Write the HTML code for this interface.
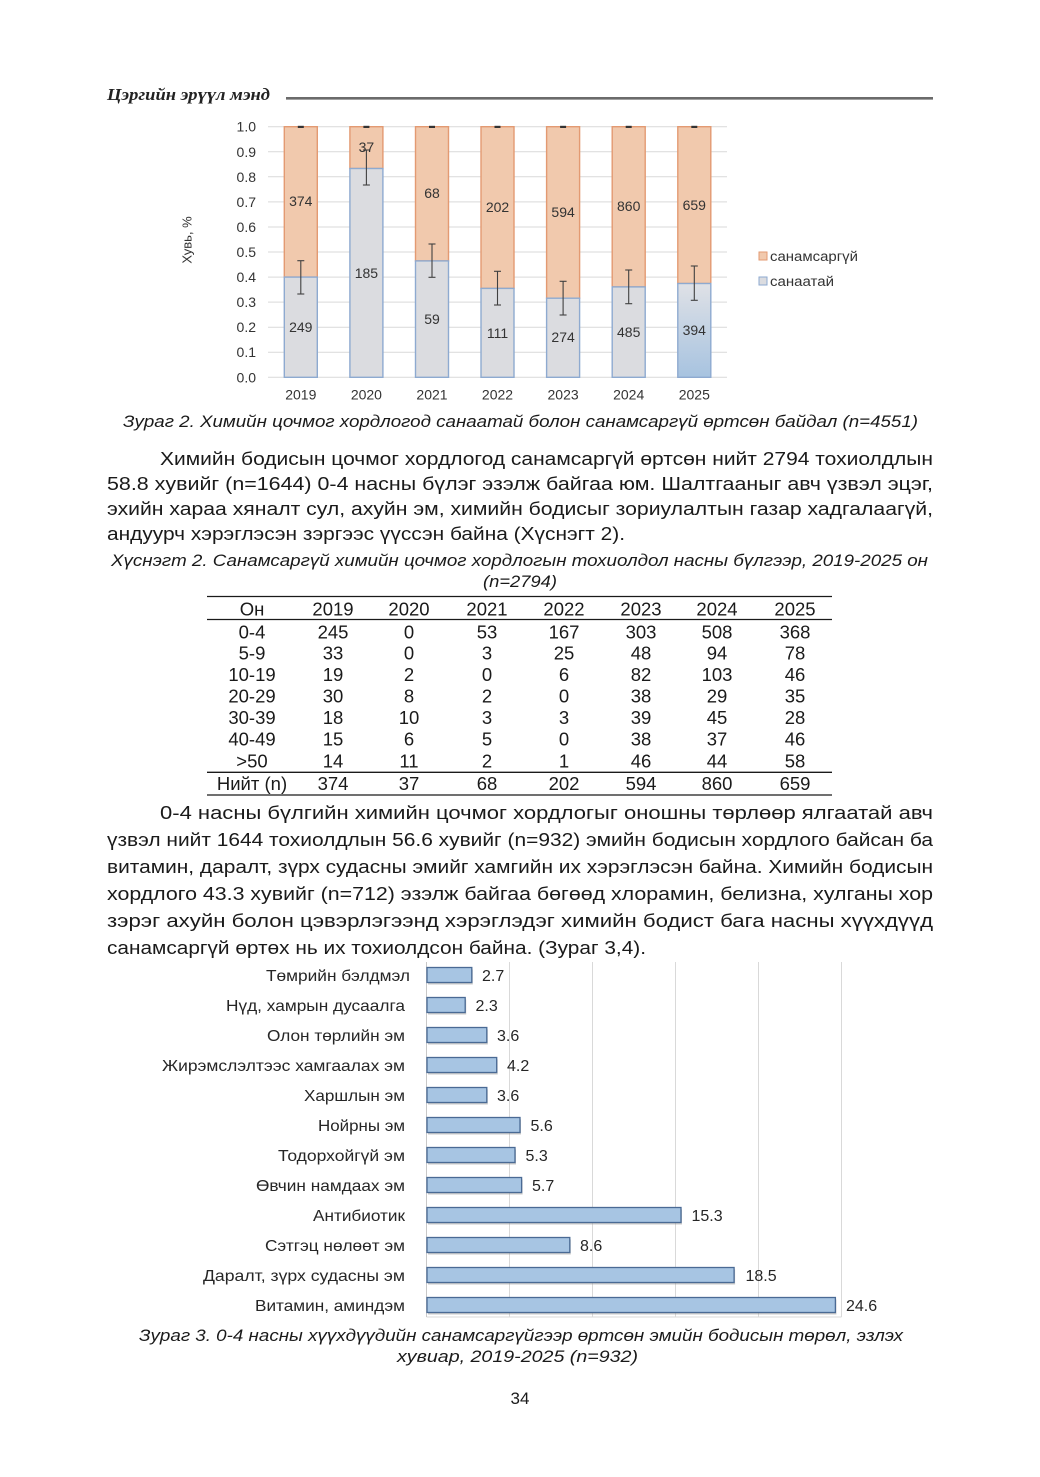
<!DOCTYPE html>
<html>
<head>
<meta charset="utf-8">
<style>
html,body{margin:0;padding:0;background:#fff;}
svg{display:block;}
text{font-family:"Liberation Sans", Arial, sans-serif;}
.b{font-size:18.5px;fill:#1a1a1a;}
.cap{font-size:16.5px;font-style:italic;fill:#1a1a1a;}
.t1{font-size:14px;fill:#333;}
.t2{font-size:16px;fill:#262626;}
</style>
</head>
<body>
<svg width="1040" height="1477" viewBox="0 0 1040 1477" xmlns="http://www.w3.org/2000/svg">
<defs>
<linearGradient id="g25" x1="0" y1="0" x2="0" y2="1">
<stop offset="0" stop-color="#dfe1e6"/>
<stop offset="1" stop-color="#a7c3e0"/>
</linearGradient>
</defs>
<rect width="1040" height="1477" fill="#fff"/>

<!-- Header -->
<text x="107" y="100" font-family="Liberation Serif, serif" font-size="17" font-weight="bold" font-style="italic" fill="#222" textLength="163" lengthAdjust="spacingAndGlyphs" style="font-family:'Liberation Serif',serif">Цэргийн эрүүл мэнд</text>
<line x1="286" y1="98.3" x2="933" y2="98.3" stroke="#6b6b6b" stroke-width="2.6"/>

<!-- Chart 1 gridlines -->
<g stroke="#d9d9d9" stroke-width="1">
<line x1="268" y1="377.3" x2="727" y2="377.3"/>
<line x1="268" y1="352.2" x2="727" y2="352.2"/>
<line x1="268" y1="327.2" x2="727" y2="327.2"/>
<line x1="268" y1="302.1" x2="727" y2="302.1"/>
<line x1="268" y1="277.1" x2="727" y2="277.1"/>
<line x1="268" y1="252.0" x2="727" y2="252.0"/>
<line x1="268" y1="227.0" x2="727" y2="227.0"/>
<line x1="268" y1="201.9" x2="727" y2="201.9"/>
<line x1="268" y1="176.8" x2="727" y2="176.8"/>
<line x1="268" y1="151.8" x2="727" y2="151.8"/>
<line x1="268" y1="126.7" x2="727" y2="126.7"/>
</g>
<g class="t1" text-anchor="end">
<text x="256" y="382.3">0.0</text>
<text x="256" y="357.2">0.1</text>
<text x="256" y="332.2">0.2</text>
<text x="256" y="307.1">0.3</text>
<text x="256" y="282.1">0.4</text>
<text x="256" y="257.0">0.5</text>
<text x="256" y="232.0">0.6</text>
<text x="256" y="206.9">0.7</text>
<text x="256" y="181.8">0.8</text>
<text x="256" y="156.8">0.9</text>
<text x="256" y="131.7">1.0</text>
</g>
<text transform="translate(191.5,240) rotate(-90)" text-anchor="middle" font-size="13" fill="#333">Хувь, %</text>

<!-- Bars chart 1 -->
<g stroke-width="1.4">
<!-- 2019 -->
<rect x="284.3" y="126.7" width="33" height="150.4" fill="#f1c9ad" stroke="#e39a72"/>
<rect x="284.3" y="277.1" width="33" height="100.2" fill="#dbdce0" stroke="#8eaad0"/>
<!-- 2020 -->
<rect x="349.9" y="126.7" width="33" height="41.8" fill="#f1c9ad" stroke="#e39a72"/>
<rect x="349.9" y="168.5" width="33" height="208.8" fill="#dbdce0" stroke="#8eaad0"/>
<!-- 2021 -->
<rect x="415.5" y="126.7" width="33" height="134.2" fill="#f1c9ad" stroke="#e39a72"/>
<rect x="415.5" y="260.9" width="33" height="116.4" fill="#dbdce0" stroke="#8eaad0"/>
<!-- 2022 -->
<rect x="481" y="126.7" width="33" height="161.7" fill="#f1c9ad" stroke="#e39a72"/>
<rect x="481" y="288.4" width="33" height="88.9" fill="#dbdce0" stroke="#8eaad0"/>
<!-- 2023 -->
<rect x="546.6" y="126.7" width="33" height="171.5" fill="#f1c9ad" stroke="#e39a72"/>
<rect x="546.6" y="298.2" width="33" height="79.1" fill="#dbdce0" stroke="#8eaad0"/>
<!-- 2024 -->
<rect x="612.2" y="126.7" width="33" height="160.2" fill="#f1c9ad" stroke="#e39a72"/>
<rect x="612.2" y="286.9" width="33" height="90.4" fill="#dbdce0" stroke="#8eaad0"/>
<!-- 2025 -->
<rect x="677.8" y="126.7" width="33" height="156.8" fill="#f1c9ad" stroke="#e39a72"/>
<rect x="677.8" y="283.5" width="33" height="93.8" fill="url(#g25)" stroke="#8eaad0"/>
</g>

<!-- error bars -->
<g stroke="#404040" stroke-width="1.1">
<line x1="300.8" y1="260.7" x2="300.8" y2="294"/><line x1="297.3" y1="260.7" x2="304.3" y2="260.7"/><line x1="297.3" y1="294" x2="304.3" y2="294"/>
<line x1="366.4" y1="150" x2="366.4" y2="185"/><line x1="362.9" y1="150" x2="369.9" y2="150"/><line x1="362.9" y1="185" x2="369.9" y2="185"/>
<line x1="432" y1="244" x2="432" y2="277.3"/><line x1="428.5" y1="244" x2="435.5" y2="244"/><line x1="428.5" y1="277.3" x2="435.5" y2="277.3"/>
<line x1="497.5" y1="271.3" x2="497.5" y2="305"/><line x1="494" y1="271.3" x2="501" y2="271.3"/><line x1="494" y1="305" x2="501" y2="305"/>
<line x1="563.1" y1="281.3" x2="563.1" y2="315"/><line x1="559.6" y1="281.3" x2="566.6" y2="281.3"/><line x1="559.6" y1="315" x2="566.6" y2="315"/>
<line x1="628.7" y1="270" x2="628.7" y2="303.7"/><line x1="625.2" y1="270" x2="632.2" y2="270"/><line x1="625.2" y1="303.7" x2="632.2" y2="303.7"/>
<line x1="694.3" y1="266" x2="694.3" y2="300.3"/><line x1="690.8" y1="266" x2="697.8" y2="266"/><line x1="690.8" y1="300.3" x2="697.8" y2="300.3"/>
</g>
<g stroke="#333" stroke-width="2.2">
<line x1="297.8" y1="126.9" x2="303.8" y2="126.9"/>
<line x1="363.4" y1="126.9" x2="369.4" y2="126.9"/>
<line x1="429" y1="126.9" x2="435" y2="126.9"/>
<line x1="494.5" y1="126.9" x2="500.5" y2="126.9"/>
<line x1="560.1" y1="126.9" x2="566.1" y2="126.9"/>
<line x1="625.7" y1="126.9" x2="631.7" y2="126.9"/>
<line x1="691.3" y1="126.9" x2="697.3" y2="126.9"/>
</g>

<!-- data labels chart 1 -->
<g class="t1" text-anchor="middle">
<text x="300.8" y="206">374</text><text x="300.8" y="332">249</text>
<text x="366.4" y="152">37</text><text x="366.4" y="278">185</text>
<text x="432" y="198">68</text><text x="432" y="324">59</text>
<text x="497.5" y="212">202</text><text x="497.5" y="338">111</text>
<text x="563.1" y="217">594</text><text x="563.1" y="342">274</text>
<text x="628.7" y="211">860</text><text x="628.7" y="337">485</text>
<text x="694.3" y="210">659</text><text x="694.3" y="335">394</text>
</g>
<g class="t1" text-anchor="middle">
<text x="300.8" y="399.5">2019</text>
<text x="366.4" y="399.5">2020</text>
<text x="432" y="399.5">2021</text>
<text x="497.5" y="399.5">2022</text>
<text x="563.1" y="399.5">2023</text>
<text x="628.7" y="399.5">2024</text>
<text x="694.3" y="399.5">2025</text>
</g>

<!-- legend -->
<rect x="759" y="252" width="8" height="8" fill="#f1c9ad" stroke="#e39a72" stroke-width="1"/>
<text x="770" y="261" font-size="13.5" fill="#333" textLength="88" lengthAdjust="spacingAndGlyphs">санамсаргүй</text>
<rect x="759" y="277" width="8" height="8" fill="#dbdce0" stroke="#8eaad0" stroke-width="1"/>
<text x="770" y="286" font-size="13.5" fill="#333" textLength="64" lengthAdjust="spacingAndGlyphs">санаатай</text>

<!-- Caption 2 -->
<text class="cap" x="123" y="427" textLength="795" lengthAdjust="spacingAndGlyphs">Зураг 2. Химийн цочмог хордлогод санаатай болон санамсаргүй өртсөн байдал (n=4551)</text>

<!-- Paragraph 1 -->
<text class="b" x="160" y="465" textLength="773" lengthAdjust="spacingAndGlyphs">Химийн бодисын цочмог хордлогод санамсаргүй өртсөн нийт 2794 тохиолдлын</text>
<text class="b" x="107" y="490" textLength="826" lengthAdjust="spacingAndGlyphs">58.8 хувийг (n=1644) 0-4 насны бүлэг эзэлж байгаа юм. Шалтгааныг авч үзвэл эцэг,</text>
<text class="b" x="107" y="515" textLength="826" lengthAdjust="spacingAndGlyphs">эхийн хараа хяналт сул, ахуйн эм, химийн бодисыг зориулалтын газар хадгалаагүй,</text>
<text class="b" x="107" y="540" textLength="518" lengthAdjust="spacingAndGlyphs">андуурч хэрэглэсэн зэргээс үүссэн байна (Хүснэгт 2).</text>

<!-- Table caption -->
<text class="cap" x="111" y="566" textLength="817" lengthAdjust="spacingAndGlyphs">Хүснэгт 2. Санамсаргүй химийн цочмог хордлогын тохиолдол насны бүлгээр, 2019-2025 он</text>
<text class="cap" x="483" y="587" textLength="74" lengthAdjust="spacingAndGlyphs">(n=2794)</text>

<!-- Table -->
<g stroke="#1a1a1a" stroke-width="1.3">
<line x1="207" y1="596.5" x2="832" y2="596.5"/>
<line x1="207" y1="619.5" x2="832" y2="619.5"/>
<line x1="207" y1="772.3" x2="832" y2="772.3"/>
<line x1="207" y1="795" x2="832" y2="795"/>
</g>
<g class="b" text-anchor="middle">
<text y="615.5"><tspan x="252">Он</tspan><tspan x="333">2019</tspan><tspan x="409">2020</tspan><tspan x="487">2021</tspan><tspan x="564">2022</tspan><tspan x="641">2023</tspan><tspan x="717">2024</tspan><tspan x="795">2025</tspan></text>
<text y="638.3"><tspan x="252">0-4</tspan><tspan x="333">245</tspan><tspan x="409">0</tspan><tspan x="487">53</tspan><tspan x="564">167</tspan><tspan x="641">303</tspan><tspan x="717">508</tspan><tspan x="795">368</tspan></text>
<text y="659.3"><tspan x="252">5-9</tspan><tspan x="333">33</tspan><tspan x="409">0</tspan><tspan x="487">3</tspan><tspan x="564">25</tspan><tspan x="641">48</tspan><tspan x="717">94</tspan><tspan x="795">78</tspan></text>
<text y="680.9"><tspan x="252">10-19</tspan><tspan x="333">19</tspan><tspan x="409">2</tspan><tspan x="487">0</tspan><tspan x="564">6</tspan><tspan x="641">82</tspan><tspan x="717">103</tspan><tspan x="795">46</tspan></text>
<text y="702.3"><tspan x="252">20-29</tspan><tspan x="333">30</tspan><tspan x="409">8</tspan><tspan x="487">2</tspan><tspan x="564">0</tspan><tspan x="641">38</tspan><tspan x="717">29</tspan><tspan x="795">35</tspan></text>
<text y="723.9"><tspan x="252">30-39</tspan><tspan x="333">18</tspan><tspan x="409">10</tspan><tspan x="487">3</tspan><tspan x="564">3</tspan><tspan x="641">39</tspan><tspan x="717">45</tspan><tspan x="795">28</tspan></text>
<text y="745.6"><tspan x="252">40-49</tspan><tspan x="333">15</tspan><tspan x="409">6</tspan><tspan x="487">5</tspan><tspan x="564">0</tspan><tspan x="641">38</tspan><tspan x="717">37</tspan><tspan x="795">46</tspan></text>
<text y="767.6"><tspan x="252">&gt;50</tspan><tspan x="333">14</tspan><tspan x="409">11</tspan><tspan x="487">2</tspan><tspan x="564">1</tspan><tspan x="641">46</tspan><tspan x="717">44</tspan><tspan x="795">58</tspan></text>
<text y="789.9"><tspan x="252">Нийт (n)</tspan><tspan x="333">374</tspan><tspan x="409">37</tspan><tspan x="487">68</tspan><tspan x="564">202</tspan><tspan x="641">594</tspan><tspan x="717">860</tspan><tspan x="795">659</tspan></text>
</g>

<!-- Paragraph 2 -->
<text class="b" x="160" y="819" textLength="773" lengthAdjust="spacingAndGlyphs">0-4 насны бүлгийн химийн цочмог хордлогыг оношны төрлөөр ялгаатай авч</text>
<text class="b" x="107" y="846" textLength="826" lengthAdjust="spacingAndGlyphs">үзвэл нийт 1644 тохиолдлын 56.6 хувийг (n=932) эмийн бодисын хордлого байсан ба</text>
<text class="b" x="107" y="873" textLength="826" lengthAdjust="spacingAndGlyphs">витамин, даралт, зүрх судасны эмийг хамгийн их хэрэглэсэн байна. Химийн бодисын</text>
<text class="b" x="107" y="900" textLength="826" lengthAdjust="spacingAndGlyphs">хордлого 43.3 хувийг (n=712) эзэлж байгаа бөгөөд хлорамин, белизна, хулганы хор</text>
<text class="b" x="107" y="927" textLength="826" lengthAdjust="spacingAndGlyphs">зэрэг ахуйн болон цэвэрлэгээнд хэрэглэдэг химийн бодист бага насны хүүхдүүд</text>
<text class="b" x="107" y="954" textLength="539" lengthAdjust="spacingAndGlyphs">санамсаргүй өртөх нь их тохиолдсон байна. (Зураг 3,4).</text>

<!-- Chart 2 gridlines -->
<g stroke="#d9d9d9" stroke-width="1">
<line x1="509.5" y1="962" x2="509.5" y2="1317"/>
<line x1="592.5" y1="962" x2="592.5" y2="1317"/>
<line x1="675.5" y1="962" x2="675.5" y2="1317"/>
<line x1="758.5" y1="962" x2="758.5" y2="1317"/>
<line x1="841.5" y1="962" x2="841.5" y2="1317"/>
<line x1="426.5" y1="1317" x2="841.5" y2="1317"/>
</g>
<line x1="426.5" y1="962" x2="426.5" y2="1317" stroke="#c8c8c8" stroke-width="1"/>

<!-- Chart 2 bars: shadows -->
<g fill="#8c8c8c" opacity="0.45">
<rect x="428" y="969.5" width="44.8" height="15"/>
<rect x="428" y="999.5" width="38.2" height="15"/>
<rect x="428" y="1029.5" width="59.8" height="15"/>
<rect x="428" y="1059.5" width="69.7" height="15"/>
<rect x="428" y="1089.5" width="59.8" height="15"/>
<rect x="428" y="1119.5" width="93" height="15"/>
<rect x="428" y="1149.5" width="88" height="15"/>
<rect x="428" y="1179.5" width="94.6" height="15"/>
<rect x="428" y="1209.5" width="254" height="15"/>
<rect x="428" y="1239.5" width="142.8" height="15"/>
<rect x="428" y="1269.5" width="307.1" height="15"/>
<rect x="428" y="1299.5" width="408.4" height="15"/>
</g>
<g fill="#a7c5e3" stroke="#4a6a94" stroke-width="1.3">
<rect x="427" y="967.5" width="44.8" height="15"/>
<rect x="427" y="997.5" width="38.2" height="15"/>
<rect x="427" y="1027.5" width="59.8" height="15"/>
<rect x="427" y="1057.5" width="69.7" height="15"/>
<rect x="427" y="1087.5" width="59.8" height="15"/>
<rect x="427" y="1117.5" width="93" height="15"/>
<rect x="427" y="1147.5" width="88" height="15"/>
<rect x="427" y="1177.5" width="94.6" height="15"/>
<rect x="427" y="1207.5" width="254" height="15"/>
<rect x="427" y="1237.5" width="142.8" height="15"/>
<rect x="427" y="1267.5" width="307.1" height="15"/>
<rect x="427" y="1297.5" width="408.4" height="15"/>
</g>

<!-- Chart 2 category labels -->
<g class="t2" text-anchor="end">
<text x="410" y="981" textLength="144" lengthAdjust="spacingAndGlyphs">Төмрийн бэлдмэл</text>
<text x="405" y="1011" textLength="179" lengthAdjust="spacingAndGlyphs">Нүд, хамрын дусаалга</text>
<text x="405" y="1041" textLength="138" lengthAdjust="spacingAndGlyphs">Олон төрлийн эм</text>
<text x="405" y="1071" textLength="243" lengthAdjust="spacingAndGlyphs">Жирэмслэлтээс хамгаалах эм</text>
<text x="405" y="1101" textLength="101" lengthAdjust="spacingAndGlyphs">Харшлын эм</text>
<text x="405" y="1131" textLength="87" lengthAdjust="spacingAndGlyphs">Нойрны эм</text>
<text x="405" y="1161" textLength="127" lengthAdjust="spacingAndGlyphs">Тодорхойгүй эм</text>
<text x="405" y="1191" textLength="149" lengthAdjust="spacingAndGlyphs">Өвчин намдаах эм</text>
<text x="405" y="1221" textLength="92" lengthAdjust="spacingAndGlyphs">Антибиотик</text>
<text x="405" y="1251" textLength="140" lengthAdjust="spacingAndGlyphs">Сэтгэц нөлөөт эм</text>
<text x="405" y="1281" textLength="202" lengthAdjust="spacingAndGlyphs">Даралт, зүрх судасны эм</text>
<text x="405" y="1311" textLength="150" lengthAdjust="spacingAndGlyphs">Витамин, аминдэм</text>
</g>
<!-- Chart 2 value labels -->
<g class="t2">
<text x="482" y="981">2.7</text>
<text x="475.5" y="1011">2.3</text>
<text x="497" y="1041">3.6</text>
<text x="507" y="1071">4.2</text>
<text x="497" y="1101">3.6</text>
<text x="530.5" y="1131">5.6</text>
<text x="525.5" y="1161">5.3</text>
<text x="532" y="1191">5.7</text>
<text x="691.5" y="1221">15.3</text>
<text x="580" y="1251">8.6</text>
<text x="745.5" y="1281">18.5</text>
<text x="846" y="1311">24.6</text>
</g>

<!-- Caption 3 -->
<text class="cap" x="139" y="1341" textLength="764" lengthAdjust="spacingAndGlyphs">Зураг 3. 0-4 насны хүүхдүүдийн санамсаргүйгээр өртсөн эмийн бодисын төрөл, эзлэх</text>
<text class="cap" x="397" y="1362" textLength="241" lengthAdjust="spacingAndGlyphs">хувиар, 2019-2025 (n=932)</text>

<!-- Page number -->
<text x="520" y="1404" text-anchor="middle" font-size="17" fill="#1a1a1a">34</text>
</svg>
</body>
</html>
